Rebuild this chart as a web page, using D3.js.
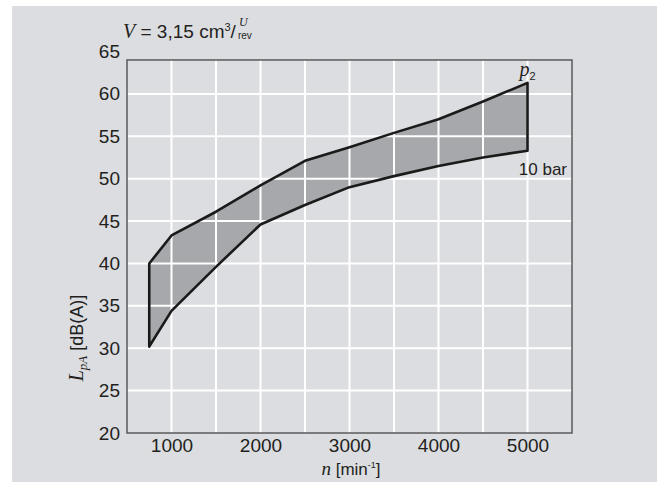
<!DOCTYPE html>
<html>
<head>
<meta charset="utf-8">
<script src="https://cdn.jsdelivr.net/npm/d3@7"></script>
<style>
  body { margin: 0; background: #fff; }
  svg { display: block; font-family: "Liberation Sans", Arial, sans-serif; }
</style>
</head>
<body>
<div class="Canvas"></div>
<script>
// speed n [min^-1]
let speeds = [750, 1000, 1500, 2000, 2500, 3000, 3500, 4000, 4500, 5000];
// upper limit of the band (p2) and lower limit (10 bar), dB(A)
let upperLevel = [40.0, 43.3, 46.1, 49.2, 52.1, 53.7, 55.4, 57.0, 59.1, 61.3];
let lowerLevel = [30.2, 34.4, 39.6, 44.6, 46.9, 49.0, 50.3, 51.5, 52.5, 53.3];
let xTicks = [1000, 2000, 3000, 4000, 5000];
let yTicks = [20, 25, 30, 35, 40, 45, 50, 55, 60, 65];

let width = 664;
let height = 482;
let ink = '#231f20';

let svg = d3.select('.Canvas').append('svg').attr('width', width).attr('height', height);

// grey panel
svg.append('rect').attr('x', 12).attr('y', 6).attr('width', 645).attr('height', 476).attr('fill', '#dcdde0');

let x = d3.scaleLinear().domain([500, 5500]).range([127, 572]);
let y = d3.scaleLinear().domain([20, 65]).range([433, 51.5]);
let frameTop = 64; // the box stops a little under the 65 label

let band = speeds.map((n, i) => ({ n: n, hi: upperLevel[i], lo: lowerLevel[i] }));

let g = svg.append('g');

// filled band
let area = d3.area().x((d) => x(d.n)).y0((d) => y(d.lo)).y1((d) => y(d.hi));
g.append('path').datum(band).attr('d', area).attr('fill', '#a7a8ab');

// white grid drawn over the band
let gridX = d3.range(1000, 5500, 500);
g.selectAll('line.gx')
    .data(gridX)
    .enter()
    .append('line')
    .attr('x1', (d) => x(d))
    .attr('x2', (d) => x(d))
    .attr('y1', y(20))
    .attr('y2', y(frameTop))
    .attr('stroke', '#fff')
    .attr('stroke-width', 2);
g.selectAll('line.gy')
    .data(yTicks.slice(1, -1))
    .enter()
    .append('line')
    .attr('x1', x(500))
    .attr('x2', x(5500))
    .attr('y1', (d) => y(d))
    .attr('y2', (d) => y(d))
    .attr('stroke', '#fff')
    .attr('stroke-width', 2);

// outline of the band
let outline = band.map((d) => [x(d.n), y(d.hi)])
    .concat(band.slice().reverse().map((d) => [x(d.n), y(d.lo)]));
g.append('path')
    .attr('d', d3.line()(outline) + 'Z')
    .attr('fill', 'none')
    .attr('stroke', '#1a1a1a')
    .attr('stroke-width', 2.6)
    .attr('stroke-linejoin', 'round');

// frame
g.append('rect')
    .attr('x', x(500))
    .attr('y', y(frameTop))
    .attr('width', x(5500) - x(500))
    .attr('height', y(20) - y(frameTop))
    .attr('fill', 'none')
    .attr('stroke', '#5a5a5c')
    .attr('stroke-width', 1.5);

// axes
let xAxis = svg.append('g')
    .attr('transform', `translate(0,${y(20)})`)
    .call(d3.axisBottom(x).tickValues(xTicks).tickFormat(d3.format('d')).tickSize(0).tickPadding(6));
let yAxis = svg.append('g')
    .attr('transform', `translate(${x(500)},0)`)
    .call(d3.axisLeft(y).tickValues(yTicks).tickSize(0).tickPadding(7));
[xAxis, yAxis].forEach((a) => {
    a.select('.domain').remove();
    a.selectAll('text')
        .attr('font-family', '"Liberation Sans", Arial, sans-serif')
        .attr('font-size', 19)
        .attr('fill', ink);
});

// x label
let xl = svg.append('text')
    .attr('x', 351)
    .attr('y', 475)
    .attr('text-anchor', 'middle')
    .attr('font-size', 17)
    .attr('fill', ink);
xl.append('tspan').attr('font-family', '"Liberation Serif", serif').attr('font-style', 'italic').attr('font-size', 19).text('n');
xl.append('tspan').text(' [min');
xl.append('tspan').attr('font-size', 9).attr('dy', -7).text('-1');
xl.append('tspan').attr('dy', 7).text(']');

// y label
let yl = svg.append('text')
    .attr('transform', 'translate(83,338) rotate(-90)')
    .attr('text-anchor', 'middle')
    .attr('font-size', 18)
    .attr('fill', ink);
yl.append('tspan').attr('font-family', '"Liberation Serif", serif').attr('font-style', 'italic').attr('font-size', 20).text('L');
yl.append('tspan').attr('font-family', '"Liberation Serif", serif').attr('font-style', 'italic').attr('font-size', 13).attr('dy', 4).text('pA');
yl.append('tspan').attr('dy', -4).text(' [dB(A)]');

// title
let t = svg.append('text').attr('x', 123).attr('y', 38).attr('font-size', 19).attr('fill', ink);
t.append('tspan').attr('font-family', '"Liberation Serif", serif').attr('font-style', 'italic').attr('font-size', 20).text('V');
t.append('tspan').text(' = 3,15 cm');
t.append('tspan').attr('font-size', 11).attr('dy', -7).text('3');
t.append('tspan').attr('dy', 7).text('/');
let tw = t.node().getComputedTextLength();
svg.append('text')
    .attr('x', 123 + tw + 3).attr('y', 25.5)
    .attr('font-family', '"Liberation Serif", serif').attr('font-style', 'italic')
    .attr('font-size', 12).attr('fill', ink).text('U');
svg.append('text')
    .attr('x', 123 + tw + 2).attr('y', 38.5)
    .attr('font-size', 10).attr('fill', ink).text('rev');

// curve annotations
let last = band[band.length - 1];
let p2 = svg.append('text')
    .attr('x', x(last.n) - 8)
    .attr('y', y(last.hi) - 7)
    .attr('font-family', '"Liberation Serif", serif')
    .attr('font-size', 20)
    .attr('fill', ink);
p2.append('tspan').attr('font-style', 'italic').text('p');
p2.append('tspan').attr('font-size', 11).attr('dy', 4).attr('font-family', '"Liberation Sans", sans-serif').text('2');
svg.append('text')
    .attr('x', 567)
    .attr('y', y(last.lo) + 24)
    .attr('text-anchor', 'end')
    .attr('font-size', 17)
    .attr('fill', ink)
    .text('10 bar');
</script>
</body>
</html>
